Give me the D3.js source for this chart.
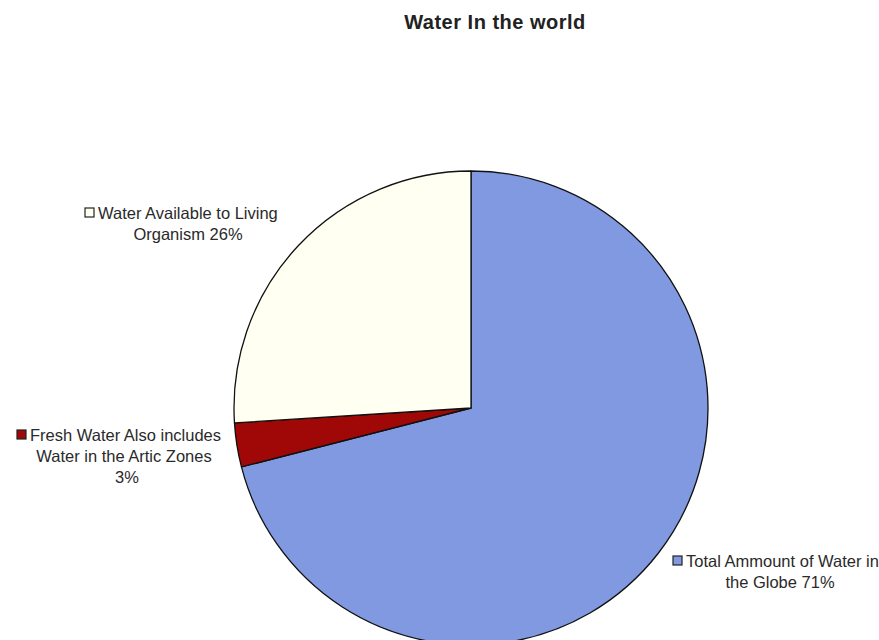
<!DOCTYPE html>
<html>
<head>
<meta charset="utf-8">
<script src="https://cdn.jsdelivr.net/npm/d3@7"></script>
<style>
  body { margin: 0; background: #fff; }
  svg { font-family: "Liberation Sans", Arial, sans-serif; }
</style>
</head>
<body>
<div id="container"></div>
<script>
let w = 879;
let h = 640;

// data
let categories = ["Total Ammount of Water in the Globe", "Fresh Water Also includes Water in the Artic Zones", "Water Available to Living Organism"];
let values = [71, 3, 26];
let colors = ["#8199e0", "#a00808", "#fffff2"];

// label lines (first line starts after the key, others centred)
let labelLines = [
  ["Total Ammount of Water in", "the Globe  71%"],
  ["Fresh Water Also includes", "Water in the Artic Zones", "3%"],
  ["Water Available to Living", "Organism 26%"]
];
let labelStart = [[686, 567], [30, 441], [98, 219]];
let labelCenters = [[780], [124, 127], [188]];

let viz = d3.select("#container").append("svg")
    .attr("width", w)
    .attr("height", h);

viz.append("text")
  .attr("x", 495)
  .attr("y", 29)
  .attr("text-anchor", "middle")
  .style("font-size", "20px")
  .style("font-weight", "bold")
  .style("letter-spacing", "0.5px")
  .attr("fill", "#222")
  .text("Water In the world");

let cx = 471, cy = 408, r = 237;

let pie = d3.pie().sort(null).value(function(d){ return d; });
let arc = d3.arc().innerRadius(0).outerRadius(r);

let g = viz.append("g").attr("transform", "translate(" + cx + "," + cy + ")");
g.selectAll(".slice").data(pie(values)).enter()
  .append("path")
    .attr("class", "slice")
    .attr("d", arc)
    .attr("fill", function(d, i){ return colors[i]; })
    .attr("stroke", "#111")
    .attr("stroke-width", 1.3)
    .attr("stroke-linejoin", "round");

// labels
let lg = viz.selectAll(".lab").data(labelLines).enter()
  .append("g")
  .attr("class", "lab");

lg.each(function(lines, i){
  let grp = d3.select(this);
  let p = labelStart[i];
  lines.forEach(function(s, k){
    grp.append("text")
      .attr("x", k == 0 ? p[0] : labelCenters[i][k - 1])
      .attr("y", p[1] + k * 21)
      .attr("text-anchor", k == 0 ? "start" : "middle")
      .style("font-size", "16.5px")
      .attr("fill", "#2a2a2a")
      .text(s);
  });
  // legend key before first line
  grp.append("rect")
    .attr("x", p[0] - 13)
    .attr("y", p[1] - 11)
    .attr("width", 9)
    .attr("height", 9)
    .attr("fill", colors[i])
    .attr("stroke", "#222")
    .attr("stroke-width", 1.2);
});
</script>
</body>
</html>
